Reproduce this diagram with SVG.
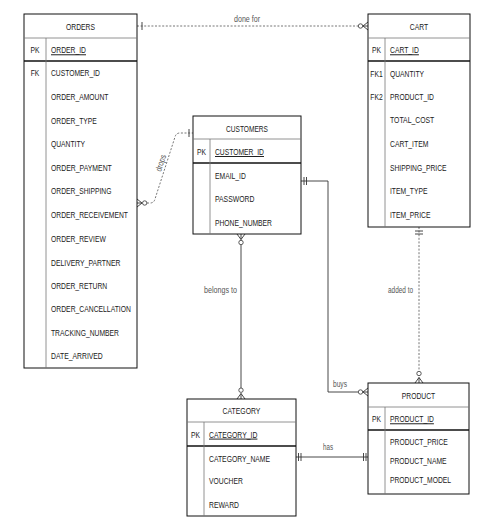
<svg xmlns="http://www.w3.org/2000/svg" width="496" height="529" viewBox="0 0 496 529">
<style>
text{font-family:"Liberation Sans",Arial,sans-serif;font-size:9.6px;fill:#1a1a1a}
.t{text-anchor:middle}
.k{text-anchor:middle}
.u{text-decoration:underline}
.lbl{fill:#555;font-size:8.8px}
.box{fill:#fff;stroke:#111;stroke-width:1}
.thin{stroke:#777;stroke-width:0.8;fill:none}
.thick{stroke:#111;stroke-width:1.4;fill:none}
.c{stroke:#333;stroke-width:0.9;fill:none}
.d{stroke:#666;stroke-width:0.9;fill:none;stroke-dasharray:2,1.6}
.o{fill:#fff;stroke:#333;stroke-width:0.8}
</style>
<rect width="496" height="529" fill="#fff"/>

<g id="connectors">
  <!-- done for -->
  <line class="d" x1="137" y1="26" x2="358" y2="26"/>
  <line class="c" x1="142" y1="22" x2="142" y2="30"/>
  <circle class="o" cx="360.5" cy="26" r="2.2"/>
  <path class="c" d="M363,26 L368,22 M363,26 L368,26 M363,26 L368,30"/>
  <text class="lbl" x="234" y="22" textLength="26" lengthAdjust="spacingAndGlyphs">done for</text>

  <!-- drops -->
  <path class="d" d="M147,203 L150,203 Q154,203 155,199 L175,137 Q176,133 180,133 L193,133"/>
  <path class="c" d="M142,203 L137,199 M142,203 L137,203 M142,203 L137,207"/>
  <circle class="o" cx="144.7" cy="203" r="2.2"/>
  <line class="c" x1="189" y1="129" x2="189" y2="137"/>
  <text class="lbl" x="0" y="0" transform="translate(161,172) rotate(-72)" textLength="17" lengthAdjust="spacingAndGlyphs">drops</text>

  <!-- buys -->
  <path class="c" d="M301,181 L328,181 L328,392 L358,392"/>
  <line class="c" x1="304" y1="177" x2="304" y2="185"/>
  <line class="c" x1="306.5" y1="177" x2="306.5" y2="185"/>
  <circle class="o" cx="360.5" cy="392" r="2.2"/>
  <path class="c" d="M363,392 L368,388 M363,392 L368,392 M363,392 L368,396"/>
  <text class="lbl" x="333" y="387" textLength="14" lengthAdjust="spacingAndGlyphs">buys</text>

  <!-- belongs to -->
  <line class="c" x1="241" y1="245" x2="241" y2="388"/>
  <path class="c" d="M241,239.5 L237,234 M241,239.5 L241,234 M241,239.5 L245,234"/>
  <circle class="o" cx="241" cy="242.5" r="2.2"/>
  <circle class="o" cx="241" cy="390.2" r="2.2"/>
  <path class="c" d="M241,393.5 L237,399 M241,393.5 L241,399 M241,393.5 L245,399"/>
  <text class="lbl" x="204" y="293" textLength="33" lengthAdjust="spacingAndGlyphs">belongs to</text>

  <!-- added to -->
  <line class="d" x1="419" y1="227" x2="419" y2="371"/>
  <line class="c" x1="415" y1="231" x2="423" y2="231"/>
  <line class="c" x1="415" y1="234" x2="423" y2="234"/>
  <circle class="o" cx="419" cy="373.5" r="2.2"/>
  <path class="c" d="M419,377.5 L415,383 M419,377.5 L419,383 M419,377.5 L423,383"/>
  <text class="lbl" x="388" y="293" textLength="25" lengthAdjust="spacingAndGlyphs">added to</text>

  <!-- has -->
  <line class="c" x1="296" y1="457" x2="368" y2="457"/>
  <line class="c" x1="298.5" y1="453" x2="298.5" y2="461"/>
  <line class="c" x1="301" y1="453" x2="301" y2="461"/>
  <line class="c" x1="363.5" y1="453" x2="363.5" y2="461"/>
  <line class="c" x1="366" y1="453" x2="366" y2="461"/>
  <text class="lbl" x="323" y="450" textLength="10" lengthAdjust="spacingAndGlyphs">has</text>
</g>

<g id="orders">
  <rect class="box" x="24" y="14" width="113" height="354"/>
  <line class="thin" x1="24" y1="38" x2="137" y2="38"/>
  <line class="thick" x1="24" y1="61" x2="137" y2="61"/>
  <line class="thin" x1="46" y1="38" x2="46" y2="368"/>
  <text class="t" x="80.5" y="29.5" textLength="29" lengthAdjust="spacingAndGlyphs">ORDERS</text>
  <text class="k" x="35" y="53.3" textLength="9" lengthAdjust="spacingAndGlyphs">PK</text>
  <text class="u" x="51" y="53.3" textLength="35" lengthAdjust="spacingAndGlyphs">ORDER_ID</text>
  <text class="k" x="35" y="76" textLength="8.6" lengthAdjust="spacingAndGlyphs">FK</text>
  <text x="51" y="76" textLength="49" lengthAdjust="spacingAndGlyphs">CUSTOMER_ID</text>
  <text x="51" y="100" textLength="57.4" lengthAdjust="spacingAndGlyphs">ORDER_AMOUNT</text>
  <text x="51" y="124" textLength="45.8" lengthAdjust="spacingAndGlyphs">ORDER_TYPE</text>
  <text x="51" y="147.3" textLength="34.1" lengthAdjust="spacingAndGlyphs">QUANTITY</text>
  <text x="51" y="170.6" textLength="60.8" lengthAdjust="spacingAndGlyphs">ORDER_PAYMENT</text>
  <text x="51" y="194" textLength="60.4" lengthAdjust="spacingAndGlyphs">ORDER_SHIPPING</text>
  <text x="51" y="218.3" textLength="76.9" lengthAdjust="spacingAndGlyphs">ORDER_RECEIVEMENT</text>
  <text x="51" y="241.6" textLength="54.8" lengthAdjust="spacingAndGlyphs">ORDER_REVIEW</text>
  <text x="51" y="265.6" textLength="69.4" lengthAdjust="spacingAndGlyphs">DELIVERY_PARTNER</text>
  <text x="51" y="289" textLength="56.2" lengthAdjust="spacingAndGlyphs">ORDER_RETURN</text>
  <text x="51" y="312.3" textLength="79.9" lengthAdjust="spacingAndGlyphs">ORDER_CANCELLATION</text>
  <text x="51" y="336" textLength="67.9" lengthAdjust="spacingAndGlyphs">TRACKING_NUMBER</text>
  <text x="51" y="359.3" textLength="51.8" lengthAdjust="spacingAndGlyphs">DATE_ARRIVED</text>
</g>

<g id="cart">
  <rect class="box" x="368" y="14" width="102" height="213"/>
  <line class="thin" x1="368" y1="38" x2="470" y2="38"/>
  <line class="thick" x1="368" y1="61" x2="470" y2="61"/>
  <line class="thin" x1="385" y1="38" x2="385" y2="227"/>
  <text class="t" x="419" y="30" textLength="18.4" lengthAdjust="spacingAndGlyphs">CART</text>
  <text class="k" x="376.5" y="53.3" textLength="9" lengthAdjust="spacingAndGlyphs">PK</text>
  <text class="u" x="390" y="53.3" textLength="28.9" lengthAdjust="spacingAndGlyphs">CART_ID</text>
  <text class="k" x="376.5" y="76.6" textLength="12.4" lengthAdjust="spacingAndGlyphs">FK1</text>
  <text x="390" y="76.6" textLength="34.1" lengthAdjust="spacingAndGlyphs">QUANTITY</text>
  <text class="k" x="376.5" y="100" textLength="12.4" lengthAdjust="spacingAndGlyphs">FK2</text>
  <text x="390" y="100" textLength="43.9" lengthAdjust="spacingAndGlyphs">PRODUCT_ID</text>
  <text x="390" y="123.3" textLength="44.3" lengthAdjust="spacingAndGlyphs">TOTAL_COST</text>
  <text x="390" y="147.3" textLength="38.3" lengthAdjust="spacingAndGlyphs">CART_ITEM</text>
  <text x="390" y="170.6" textLength="56.6" lengthAdjust="spacingAndGlyphs">SHIPPING_PRICE</text>
  <text x="390" y="194.3" textLength="37.5" lengthAdjust="spacingAndGlyphs">ITEM_TYPE</text>
  <text x="390" y="218.3" textLength="40.5" lengthAdjust="spacingAndGlyphs">ITEM_PRICE</text>
</g>

<g id="customers">
  <rect class="box" x="193" y="116" width="108" height="118"/>
  <line class="thin" x1="193" y1="139" x2="301" y2="139"/>
  <line class="thick" x1="193" y1="163" x2="301" y2="163"/>
  <line class="thin" x1="210" y1="139" x2="210" y2="234"/>
  <text class="t" x="247" y="131.6" textLength="42" lengthAdjust="spacingAndGlyphs">CUSTOMERS</text>
  <text class="k" x="201.5" y="155" textLength="9" lengthAdjust="spacingAndGlyphs">PK</text>
  <text class="u" x="215" y="155" textLength="49" lengthAdjust="spacingAndGlyphs">CUSTOMER_ID</text>
  <text x="215" y="179" textLength="30.8" lengthAdjust="spacingAndGlyphs">EMAIL_ID</text>
  <text x="215" y="202.3" textLength="39.4" lengthAdjust="spacingAndGlyphs">PASSWORD</text>
  <text x="215" y="226" textLength="57" lengthAdjust="spacingAndGlyphs">PHONE_NUMBER</text>
</g>

<g id="category">
  <rect class="box" x="187" y="399" width="109" height="117"/>
  <line class="thin" x1="187" y1="422" x2="296" y2="422"/>
  <line class="thick" x1="187" y1="446" x2="296" y2="446"/>
  <line class="thin" x1="204" y1="422" x2="204" y2="516"/>
  <text class="t" x="241.5" y="414.3" textLength="37.9" lengthAdjust="spacingAndGlyphs">CATEGORY</text>
  <text class="k" x="195.5" y="437.6" textLength="9" lengthAdjust="spacingAndGlyphs">PK</text>
  <text class="u" x="209" y="437.6" textLength="48.4" lengthAdjust="spacingAndGlyphs">CATEGORY_ID</text>
  <text x="209" y="462" textLength="61.1" lengthAdjust="spacingAndGlyphs">CATEGORY_NAME</text>
  <text x="209" y="484.3" textLength="33.8" lengthAdjust="spacingAndGlyphs">VOUCHER</text>
  <text x="209" y="508.3" textLength="30" lengthAdjust="spacingAndGlyphs">REWARD</text>
</g>

<g id="product">
  <rect class="box" x="368" y="383" width="101" height="111"/>
  <line class="thin" x1="368" y1="407" x2="469" y2="407"/>
  <line class="thick" x1="368" y1="430" x2="469" y2="430"/>
  <line class="thin" x1="385" y1="407" x2="385" y2="494"/>
  <text class="t" x="418.5" y="399" textLength="33.4" lengthAdjust="spacingAndGlyphs">PRODUCT</text>
  <text class="k" x="376.5" y="422.3" textLength="9" lengthAdjust="spacingAndGlyphs">PK</text>
  <text class="u" x="390" y="422.3" textLength="43.9" lengthAdjust="spacingAndGlyphs">PRODUCT_ID</text>
  <text x="390" y="445" textLength="57.8" lengthAdjust="spacingAndGlyphs">PRODUCT_PRICE</text>
  <text x="390" y="464" textLength="56.6" lengthAdjust="spacingAndGlyphs">PRODUCT_NAME</text>
  <text x="390" y="483.3" textLength="61.1" lengthAdjust="spacingAndGlyphs">PRODUCT_MODEL</text>
</g>
</svg>
